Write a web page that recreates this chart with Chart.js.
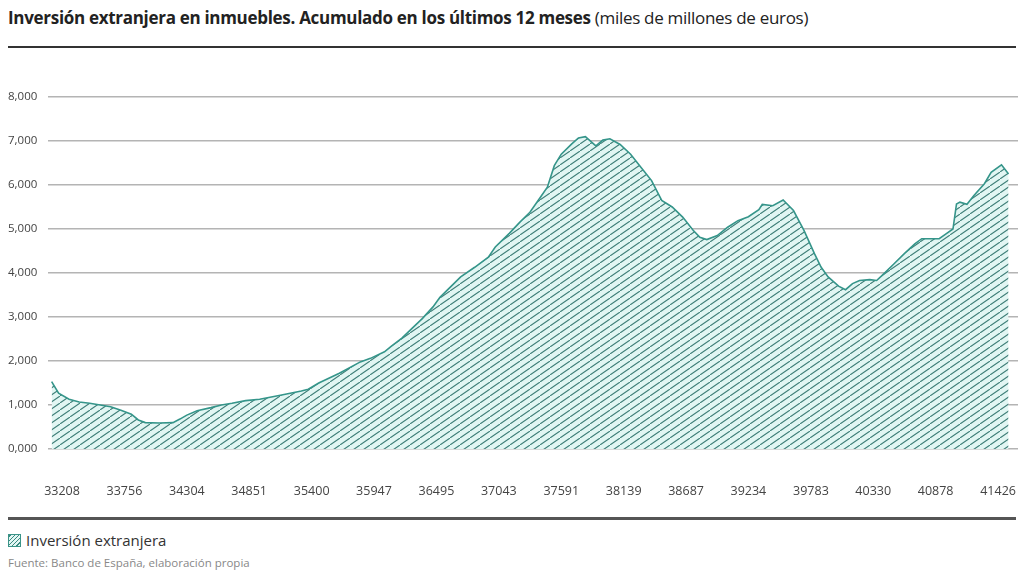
<!DOCTYPE html>
<html lang="es">
<head>
<meta charset="utf-8">
<title>Inversión extranjera en inmuebles</title>
<script src="https://cdn.jsdelivr.net/npm/chart.js@4.4.1/dist/chart.umd.min.js"></script>
<style>
  html,body{margin:0;padding:0;background:#fff;}
  body{width:1024px;height:570px;position:relative;overflow:hidden;font-family:'Open Sans',sans-serif;color:#222;}
  #titulo{position:absolute;left:8px;top:6px;font-size:17px;white-space:nowrap;letter-spacing:-0.3px;}
  #titulo b{font-weight:700;}
  .raya{position:absolute;left:8px;width:1008px;}
  #raya1{top:46px;height:2px;background:#333;}
  #raya2{top:517px;height:3px;background:#555;}
  #wrap{position:absolute;left:0;top:60px;width:1024px;height:444px;}
  #leyenda{position:absolute;left:8px;top:530px;font-size:15px;color:#333;white-space:nowrap;}
  #leyenda span{display:inline-block;width:11px;height:11px;vertical-align:-1px;margin-right:5px;border:1px solid #3a9488;
    background:repeating-linear-gradient(-45deg,#e2f6f3 0 2px,#3a8a80 2px 3px);}
  #fuente{position:absolute;left:8px;top:555px;font-size:11.5px;color:#888;white-space:nowrap;}
</style>
</head>
<body>
<div id="titulo"><b>Inversión extranjera en inmuebles. Acumulado en los últimos 12 meses</b> (miles de millones de euros)</div>
<div class="raya" id="raya1"></div>
<div id="wrap"><canvas id="chart"></canvas></div>
<div class="raya" id="raya2"></div>
<div id="leyenda"><span></span>Inversión extranjera</div>
<div id="fuente">Fuente: Banco de España, elaboración propia</div>

<script>
// --- Datos (miles de millones de euros) ---
const fechas = [
  '1990-09','1990-11','1991-02','1991-05','1991-08','1991-11','1992-02','1992-05','1992-08','1992-10',
  '1992-12','1993-04','1993-08','1993-10','1993-12','1994-03','1994-07','1994-10','1995-01','1995-05',
  '1995-09','1996-03','1996-09','1996-11','1997-02','1997-08','1998-02','1998-05','1998-09','1998-11',
  '1999-02','1999-05','1999-08','1999-11','2000-01','2000-04','2000-07','2000-11','2001-03','2001-05',
  '2001-09','2001-12','2002-03','2002-06','2002-08','2002-10','2002-12','2003-03','2003-05','2003-07',
  '2003-10','2003-12','2004-02','2004-05','2004-08','2004-11','2005-02','2005-05','2005-08','2005-11',
  '2006-02','2006-04','2006-06','2006-09','2006-12','2007-03','2007-06','2007-09','2007-10','2008-01',
  '2008-04','2008-07','2008-10','2009-01','2009-03','2009-05','2009-08','2009-10','2009-12','2010-02',
  '2010-05','2010-07','2010-09','2010-12','2011-03','2011-06','2011-08','2012-01','2012-03','2012-05',
  '2012-06','2012-07','2012-09','2012-11','2013-02','2013-04','2013-07','2013-09'
];
const valores = [
  1.53,1.27,1.13,1.07,1.04,1.00,0.96,0.88,0.79,0.66,
  0.60,0.59,0.60,0.68,0.77,0.87,0.94,1.00,1.04,1.10,
  1.13,1.22,1.32,1.36,1.50,1.72,1.98,2.06,2.21,2.34,
  2.52,2.74,2.97,3.23,3.45,3.68,3.91,4.13,4.36,4.59,
  4.90,5.15,5.38,5.72,5.95,6.44,6.70,6.93,7.07,7.10,
  6.89,7.02,7.05,6.92,6.70,6.40,6.10,5.65,5.50,5.27,
  4.97,4.81,4.76,4.85,5.04,5.19,5.28,5.44,5.56,5.53,
  5.66,5.42,4.97,4.44,4.13,3.91,3.70,3.62,3.76,3.83,
  3.85,3.83,3.98,4.21,4.44,4.66,4.78,4.78,4.89,5.00,
  5.57,5.61,5.56,5.76,6.03,6.29,6.46,6.25
];
// etiquetas del eje X (número de serie de fecha, cada 18 meses)
const ticksX = [33208,33756,34304,34851,35400,35947,36495,37043,37591,38139,38687,39234,39783,40330,40878,41426];
const ticksY = [0,1,2,3,4,5,6,7,8];
const nombreSerie = 'Inversión extranjera';

// fecha 'AAAA-MM' -> número de serie tipo Excel
function serie(f){
  const [a,m] = f.split('-').map(Number);
  return Date.UTC(a,m-1,1)/864e5 + 25569;
}

// --- Rayado ---
function rayado(){
  const c = document.createElement('canvas');
  c.width = 10; c.height = 7;
  const g = c.getContext('2d');
  g.fillStyle = '#e2f6f3';
  g.fillRect(0,0,10,7);
  g.strokeStyle = '#3f7f78';
  g.lineWidth = 1.1;
  g.beginPath();
  g.moveTo(-10,14); g.lineTo(10,0);
  g.moveTo(0,7); g.lineTo(10,0);
  g.moveTo(0,7); g.lineTo(20,-7);
  g.stroke();
  return g.createPattern(c,'repeat');
}

const ctx = document.getElementById('chart').getContext('2d');
const puntos = fechas.map((f,i)=>({x:serie(f), y:valores[i]}));

const myChart = new Chart(ctx,{
  type:'line',
  data:{ datasets:[{
    label:nombreSerie,
    data:puntos,
    borderColor:'#35958a',
    borderWidth:1.6,
    backgroundColor:rayado(),
    fill:'origin',
    pointRadius:0,
    tension:0
  }]},
  options:{
    responsive:true, maintainAspectRatio:false, animation:false,
    layout:{ padding:{ left:8, right:6, top:37, bottom:0 } },
    plugins:{ legend:{ display:false }, tooltip:{ enabled:false } },
    scales:{
      x:{
        type:'linear', min:33085, max:41601,
        afterBuildTicks:s=>{ s.ticks = ticksX.map(v=>({value:v})); },
        afterFit:s=>{ s.height = 55; s.paddingLeft = 0; s.paddingRight = 0; },
        grid:{ display:false, drawTicks:false },
        border:{ display:false },
        ticks:{ padding:35, maxRotation:0, autoSkip:false, color:'#444', font:{ family:'Open Sans', size:12.5 },
          callback:v=>String(v) }
      },
      y:{
        min:0, max:8,
        afterBuildTicks:s=>{ s.ticks = ticksY.map(v=>({value:v})); },
        afterFit:s=>{ s.width = 40; },
        grid:{ color:'#b4b4b4', lineWidth:1.5, drawTicks:false },
        border:{ display:false },
        ticks:{ crossAlign:'far', padding:0, color:'#444', font:{ family:'Open Sans', size:11.5 },
          callback:v=>v.toFixed(3).replace('.',',') }
      }
    }
  }
});
</script>
</body>
</html>
